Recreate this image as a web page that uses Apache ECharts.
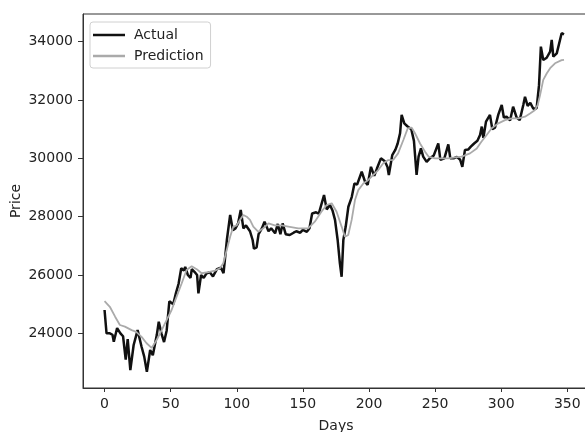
<!DOCTYPE html>
<html>
<head>
<meta charset="utf-8">
<script src="https://cdn.jsdelivr.net/npm/echarts@6/dist/echarts.min.js"></script>
<style>html,body{margin:0;padding:0;background:#fff;}#c{width:585px;height:432px;}</style>
</head>
<body>
<div id="c"></div>
<script>
const seriesNames = ['Actual', 'Prediction'];
const xTicks = [0, 50, 100, 150, 200, 250, 300, 350];
const yTicks = [24000, 26000, 28000, 30000, 32000, 34000];

const actualDays = [0,1.5,4,6,7,9.5,12,14,16,17.5,19.5,22,25,28,30,32,34.5,36.5,39.5,41,43,45,47,49,52,54,56,58,60,61,63,65,66,68,70,71,73,75,77,79.5,82,85,88,90,92.5,95,97,99,101,103,105,107,110,112,113,115,116.5,119,121,124,126,129,131,133,134.7,137,140,143,145,148,150,153,155,157,160,162,166,168,170.5,172.5,174.3,176.3,178,179.3,180.6,182.4,184.4,187,189,191,194.5,197,199,201.5,204,206,209,212,214,215,217.6,220,221.7,223.5,224.7,226.7,229,232,234,236,237.5,239.3,241,243.6,246,249,252.4,254,257,260,261.5,264,266.5,269,270.6,272.6,275,277,279.5,282,284,285.3,286.5,288.5,291.5,293.3,295.3,297.8,300.4,302,304,306.7,309,311.7,314,316.7,318,320,322,324.3,326.8,328.6,330,331.8,334.4,337,338.2,339.4,342,343.5,345.7,347.5];
const actualValues = [24800,24000,24000,23950,23710,24180,24000,23900,23100,23800,22740,23600,24110,23540,23200,22680,23430,23250,23940,24400,24000,23700,24100,25100,25000,25380,25700,26230,26150,26280,26000,25900,26200,26110,26000,25370,26000,25900,26050,26100,25950,26200,26250,26060,27200,28060,27540,27600,27770,28230,27600,27700,27500,27200,26900,26950,27400,27600,27830,27500,27600,27430,27750,27400,27770,27400,27370,27450,27500,27450,27550,27480,27600,28110,28150,28100,28740,28250,28400,28200,27890,27200,26400,25940,27200,27660,28340,28680,29140,29100,29540,29200,29090,29710,29400,29650,30000,29900,29700,29430,30110,30300,30510,30860,31490,31200,31100,31000,30600,29430,30060,30340,30060,29880,30000,30100,30510,29950,30000,30480,30000,30000,30050,29950,29710,30290,30300,30400,30510,30600,30800,31090,30700,31260,31490,31000,31050,31500,31830,31400,31430,31300,31770,31400,31310,31830,32110,31800,31900,31700,31720,32510,33830,33370,33450,33660,34060,33490,33600,33550,34290,34250];

const predDays = [0,4,8,11.6,15.4,20.5,24,28,31.8,35.6,39.4,43.2,47,50.7,54.5,58.3,62,65.9,69.7,73.4,78.5,83.5,87.3,89.8,92.4,95,97.4,100,102.4,105,107.5,110,112.5,116.3,120,124,128.7,134,139,146.5,154,159,164,168,171.8,175.5,179.3,181.8,184.3,186.9,189.4,191.9,195.7,199.5,203.3,207,210.8,214.6,218.4,222,226,229.3,232.3,234.8,238.6,242.4,245,250,255,260,265,270,276.4,281.5,285,289,292.8,297.8,302.9,308,313,318,321.8,325.6,327.6,329.4,331.8,334.4,337,340.7,345.7,347.5];
const predValues = [25100,24910,24570,24285,24230,24110,24050,23880,23660,23500,23770,24110,24460,24800,25260,25710,26170,26300,26200,26060,26100,26150,26230,26400,26860,27310,27660,27700,27890,28060,28000,27890,27660,27480,27600,27770,27700,27700,27660,27600,27600,27830,28170,28400,28460,28170,27660,27310,27370,27890,28570,28910,29140,29260,29430,29600,29830,29940,29950,30170,30630,31030,31050,30860,30510,30230,30060,30000,30000,30000,30030,30060,30170,30340,30570,30800,31030,31200,31310,31370,31370,31430,31540,31660,31830,32170,32690,32910,33090,33260,33370,33380];

const zip = (xs, ys) => xs.map((x, i) => [x, ys[i]]);
const FONT = 'DejaVu Sans';

const chart = echarts.init(document.getElementById('c'), null, {renderer: 'canvas'});
chart.setOption({
  animation: false,
  backgroundColor: '#fff',
  grid: {left: 83, top: 14, width: 506, height: 374, containLabel: false, outerBoundsMode: 'none',
         show: true, borderColor: '#333', borderWidth: 1, backgroundColor: 'transparent'},
  legend: {
    orient: 'vertical', left: 90, top: 22,
    backgroundColor: '#fff', borderColor: '#d0d0d0', borderWidth: 1, borderRadius: 3,
    padding: [5, 7, 4, 3], itemGap: 5, itemWidth: 32, itemHeight: 2.5, icon: 'rect',
    textStyle: {fontFamily: FONT, fontSize: 14, color: '#222', padding: [0, 0, 0, 4], lineHeight: 16},
    data: seriesNames
  },
  xAxis: {
    type: 'value', min: -16.3, max: 366.4,
    name: 'Days', nameLocation: 'middle', nameGap: 31,
    nameTextStyle: {fontFamily: FONT, fontSize: 14, color: '#222'},
    axisLine: {show: true, onZero: false, lineStyle: {color: '#333', width: 1}},
    axisTick: {show: true, inside: false, length: 4, customValues: xTicks, lineStyle: {color: '#333'}},
    axisLabel: {fontFamily: FONT, fontSize: 14, color: '#222', margin: 9, customValues: xTicks,
                formatter: v => String(v)},
    splitLine: {show: false}
  },
  yAxis: {
    type: 'value', min: 22125, max: 34950,
    name: 'Price', nameLocation: 'middle', nameGap: 60, nameRotate: 90, nameMoveOverlap: false,
    nameTextStyle: {fontFamily: FONT, fontSize: 14, color: '#222'},
    axisLine: {show: true, onZero: false, lineStyle: {color: '#333', width: 1}},
    axisTick: {show: true, inside: false, length: 5, customValues: yTicks, lineStyle: {color: '#333'}},
    axisLabel: {fontFamily: FONT, fontSize: 14, color: '#222', margin: 10, customValues: yTicks,
                formatter: v => String(v)},
    splitLine: {show: false}
  },
  series: [
    {name: seriesNames[0], type: 'line', data: zip(actualDays, actualValues), showSymbol: false, symbol: 'none',
     lineStyle: {color: '#111', width: 2.5}, itemStyle: {color: '#111'}, z: 2},
    {name: seriesNames[1], type: 'line', data: zip(predDays, predValues), showSymbol: false, symbol: 'none',
     lineStyle: {color: '#aaaaaa', width: 1.8}, itemStyle: {color: '#aaaaaa'}, z: 3}
  ]
});
</script>
</body>
</html>
